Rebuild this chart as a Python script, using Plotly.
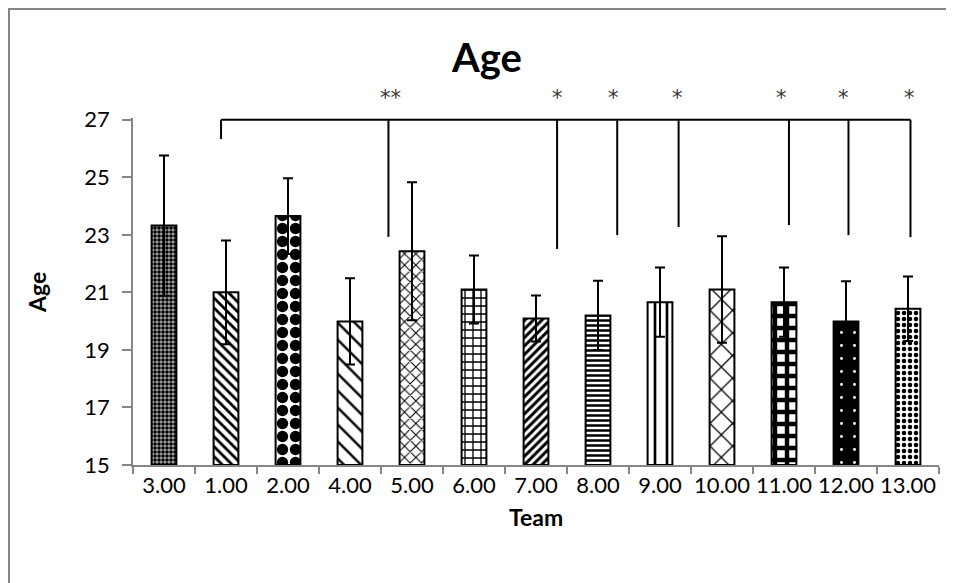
import plotly.graph_objects as go

# ---- data ----
teams = ["3.00", "1.00", "2.00", "4.00", "5.00", "6.00", "7.00",
         "8.00", "9.00", "10.00", "11.00", "12.00", "13.00"]
mean_age = [23.32, 21.00, 23.65, 19.99, 22.43, 21.10, 20.09,
            20.20, 20.66, 21.10, 20.66, 19.99, 20.43]
sd_age = [2.44, 1.80, 1.32, 1.50, 2.40, 1.18, 0.80,
          1.20, 1.20, 1.85, 1.20, 1.40, 1.12]

# significance bracket (category-index positions) and labels
bracket_top = 27.0
bracket_left = 0.92
bracket_left_bottom = 26.33
sig_x = [3.62, 6.34, 7.31, 8.30, 10.08, 11.04, 12.04]
sig_bottom = [22.93, 22.51, 22.99, 23.27, 23.34, 22.99, 22.92]
sig_label_x = [3.65, 6.35, 7.25, 8.29, 9.96, 10.96, 12.03]
sig_labels = ["**", "*", "*", "*", "*", "*", "*"]

# ---- styles ----
patterns = [
    dict(shape=".", size=4, solidity=0.6, fgcolor="#000000", bgcolor="#a8a8a8"),
    dict(shape="\\", size=7, solidity=0.4, fgcolor="#000000", bgcolor="#ffffff"),
    dict(shape=".", size=13, solidity=0.6, fgcolor="#000000", bgcolor="#ffffff"),
    dict(shape="\\", size=12, solidity=0.2, fgcolor="#000000", bgcolor="#ffffff"),
    dict(shape="x", size=8, solidity=0.25, fgcolor="#000000", bgcolor="#ffffff"),
    dict(shape="+", size=8, solidity=0.3, fgcolor="#000000", bgcolor="#ffffff"),
    dict(shape="/", size=6, solidity=0.5, fgcolor="#000000", bgcolor="#ffffff"),
    dict(shape="-", size=5, solidity=0.5, fgcolor="#000000", bgcolor="#ffffff"),
    dict(shape="|", size=12, solidity=0.22, fgcolor="#000000", bgcolor="#ffffff"),
    dict(shape="x", size=16, solidity=0.15, fgcolor="#000000", bgcolor="#ffffff"),
    dict(shape="+", size=12, solidity=0.6, fgcolor="#000000", bgcolor="#ffffff"),
    dict(shape=".", size=13, solidity=0.04, fgcolor="#ffffff", bgcolor="#000000"),
    dict(shape=".", size=6, solidity=0.45, fgcolor="#000000", bgcolor="#ffffff"),
]
for p in patterns:
    p["fgopacity"] = 1

FONT = "Lato"
AXIS_GRAY = "#868686"
OFF = 8  # page body margin offset
FIG_W, FIG_H = 954 - OFF, 583 - OFF
PLOT_L, PLOT_R, PLOT_T, PLOT_B = 133 - OFF, 939 - OFF, 118 - OFF, 465 - OFF
PW, PH = PLOT_R - PLOT_L, PLOT_B - PLOT_T


def px(xp):
    return (xp - OFF - PLOT_L) / PW


def py(yp):
    return (PLOT_B - (yp - OFF)) / PH


fig = go.Figure()
for i, t in enumerate(teams):
    fig.add_trace(go.Bar(
        x=[t], y=[mean_age[i] - 15], base=15,
        marker=dict(color="white", pattern=patterns[i],
                    line=dict(color="black", width=2)),
        error_y=dict(type="data", array=[sd_age[i]], color="black",
                     thickness=2, width=5),
        width=0.4, showlegend=False,
    ))

shapes = []
shapes.append(dict(type="line", xref="x", yref="y",
                   x0=bracket_left, x1=sig_x[-1], y0=bracket_top, y1=bracket_top,
                   line=dict(color="black", width=2)))
shapes.append(dict(type="line", xref="x", yref="y",
                   x0=bracket_left, x1=bracket_left, y0=bracket_top, y1=bracket_left_bottom,
                   line=dict(color="black", width=2)))
for xs, yb in zip(sig_x, sig_bottom):
    shapes.append(dict(type="line", xref="x", yref="y",
                       x0=xs, x1=xs, y0=bracket_top, y1=yb,
                       line=dict(color="black", width=2)))
shapes.append(dict(type="rect", xref="paper", yref="paper",
                   x0=px(9), x1=px(1000), y0=py(650), y1=py(9),
                   line=dict(color=AXIS_GRAY, width=2), layer="below"))

annotations = []
for xs, lab in zip(sig_label_x, sig_labels):
    annotations.append(dict(x=xs, y=py(98), xref="x", yref="paper", text=lab,
                            showarrow=False, yanchor="middle",
                            font=dict(family="DejaVu Sans", size=21, color="#333")))
annotations.append(dict(x=px(486), y=py(57), xref="paper", yref="paper", text="<b>Age</b>",
                        showarrow=False, xanchor="center", yanchor="middle",
                        font=dict(family=FONT, size=40, color="black")))
annotations.append(dict(x=px(37), y=py(293), xref="paper", yref="paper", text="<b>Age</b>",
                        showarrow=False, textangle=-90, xanchor="center", yanchor="middle",
                        font=dict(family=FONT, size=23, color="black")))
annotations.append(dict(x=px(536), y=py(517), xref="paper", yref="paper",
                        text="<b>Team</b>", showarrow=False, xanchor="center", yanchor="middle",
                        font=dict(family=FONT, size=23, color="black")))

fig.update_layout(
    width=FIG_W, height=FIG_H,
    margin=dict(l=PLOT_L, r=FIG_W - PLOT_R, t=PLOT_T, b=FIG_H - PLOT_B, autoexpand=False),
    paper_bgcolor="white", plot_bgcolor="white",
    bargap=0.6,
    shapes=shapes, annotations=annotations,
    font=dict(family=FONT, color="black"),
    xaxis=dict(type="category", categoryorder="array", categoryarray=teams,
               showline=True, linecolor=AXIS_GRAY, linewidth=1.5,
               ticks="outside", tickson="boundaries", ticklen=7, tickcolor=AXIS_GRAY,
               tickwidth=1.5, tickangle=0, automargin=False,
               tickfont=dict(family=FONT, size=22, color="black"),
               showgrid=False, zeroline=False, fixedrange=True),
    yaxis=dict(range=[15, 27.06], tickvals=[15, 17, 19, 21, 23, 25, 27],
               showline=True, linecolor=AXIS_GRAY, linewidth=1.5,
               ticks="outside", ticklen=9, tickcolor=AXIS_GRAY, tickwidth=1.5,
               automargin=False, ticklabelstandoff=8,
               tickfont=dict(family=FONT, size=22, color="black"),
               showgrid=False, zeroline=False, fixedrange=True),
)

fig.write_html("out.html")
